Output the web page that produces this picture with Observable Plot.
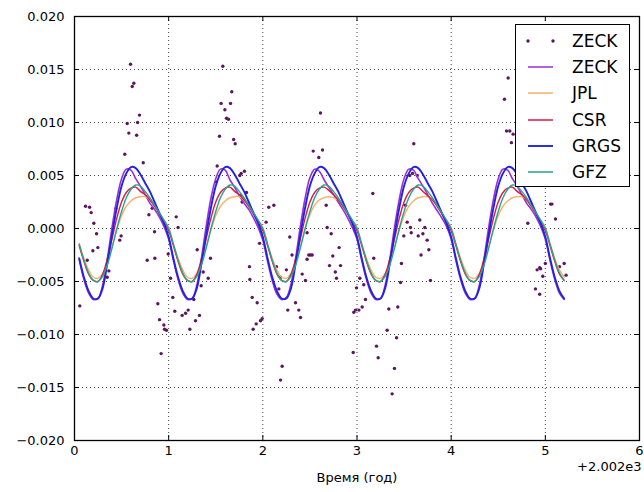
<!DOCTYPE html>
<html><head><meta charset="utf-8">
<script src="https://cdn.jsdelivr.net/npm/d3@7"></script>
<script src="https://cdn.jsdelivr.net/npm/@observablehq/plot@0.6"></script>
<style>
body{margin:0;background:#fff;}
#wrap{position:relative;width:644px;height:492px;font-family:"DejaVu Sans",sans-serif;}
#legend{position:absolute;left:515px;top:24px;width:113px;height:161px;border:1.5px solid #000;background:#fff;}
#legend .row{position:absolute;left:0;width:100%;height:26px;}
#legend svg{position:absolute;left:8px;top:0;}
#legend span{position:absolute;left:56px;top:2px;font-size:17px;line-height:22px;color:#000;}
</style></head><body><div id="wrap"></div>
<script>
// time (years since 2002)
const t = [0.05,0.10,0.15,0.20,0.25,0.30,0.35,0.40,0.45,0.50,0.55,0.60,0.65,0.70,0.75,0.80,0.85,0.90,0.95,
1.00,1.05,1.10,1.15,1.20,1.25,1.30,1.35,1.40,1.45,1.50,1.55,1.60,1.65,1.70,1.75,1.80,1.85,1.90,1.95,
2.00,2.05,2.10,2.15,2.20,2.25,2.30,2.35,2.40,2.45,2.50,2.55,2.60,2.65,2.70,2.75,2.80,2.85,2.90,2.95,
3.00,3.05,3.10,3.15,3.20,3.25,3.30,3.35,3.40,3.45,3.50,3.55,3.60,3.65,3.70,3.75,3.80,3.85,3.90,3.95,
4.00,4.05,4.10,4.15,4.20,4.25,4.30,4.35,4.40,4.45,4.50,4.55,4.60,4.65,4.70,4.75,4.80,4.85,4.90,4.95,
5.00,5.05,5.10,5.15,5.20];

const zeckLine = [-0.0029,-0.0048,-0.0061,-0.0067,-0.0066,-0.0053,-0.0028,0.0002,0.0028,0.0047,0.0056,0.0055,0.0047,0.0040,0.0032,0.0024,0.0018,0.0011,0.0002,
-0.0010,-0.0030,-0.0048,-0.0061,-0.0067,-0.0066,-0.0053,-0.0027,0.0003,0.0029,0.0047,0.0056,0.0055,0.0046,0.0039,0.0031,0.0024,0.0018,0.0010,0.0001,
-0.0011,-0.0031,-0.0049,-0.0062,-0.0067,-0.0065,-0.0052,-0.0027,0.0003,0.0029,0.0048,0.0056,0.0054,0.0046,0.0039,0.0032,0.0025,0.0018,0.0010,0.0001,
-0.0010,-0.0030,-0.0048,-0.0061,-0.0067,-0.0066,-0.0053,-0.0028,0.0002,0.0028,0.0047,0.0056,0.0055,0.0047,0.0040,0.0032,0.0024,0.0017,0.0010,0.0002,
-0.0010,-0.0030,-0.0048,-0.0061,-0.0067,-0.0066,-0.0053,-0.0028,0.0002,0.0028,0.0047,0.0056,0.0055,0.0047,0.0040,0.0032,0.0024,0.0018,0.0011,0.0002,
-0.0010,-0.0030,-0.0048,-0.0061,-0.0067];

const jpl = [-0.0014,-0.0028,-0.0039,-0.0046,-0.0047,-0.0042,-0.0031,-0.0016,-0.0001,0.0012,0.0021,0.0026,0.0029,0.0030,0.0030,0.0027,0.0022,0.0015,0.0008,
0.0001,-0.0014,-0.0028,-0.0039,-0.0046,-0.0047,-0.0042,-0.0031,-0.0016,-0.0001,0.0012,0.0021,0.0026,0.0029,0.0030,0.0030,0.0027,0.0022,0.0015,0.0008,
0.0001,-0.0014,-0.0028,-0.0039,-0.0046,-0.0047,-0.0042,-0.0031,-0.0016,0.0000,0.0013,0.0022,0.0027,0.0029,0.0030,0.0029,0.0027,0.0022,0.0015,0.0008,
0.0001,-0.0014,-0.0028,-0.0039,-0.0046,-0.0047,-0.0042,-0.0031,-0.0016,-0.0001,0.0012,0.0021,0.0026,0.0029,0.0030,0.0030,0.0027,0.0022,0.0015,0.0008,
0.0001,-0.0014,-0.0028,-0.0039,-0.0046,-0.0047,-0.0042,-0.0031,-0.0016,-0.0001,0.0012,0.0021,0.0026,0.0029,0.0030,0.0030,0.0027,0.0022,0.0015,0.0008,
0.0001,-0.0014,-0.0028,-0.0039,-0.0046];

const csr = [-0.0016,-0.0031,-0.0043,-0.0049,-0.0050,-0.0043,-0.0028,-0.0009,0.0010,0.0025,0.0034,0.0038,0.0039,0.0035,0.0032,0.0027,0.0021,0.0014,0.0006,
-0.0002,-0.0016,-0.0031,-0.0043,-0.0049,-0.0050,-0.0043,-0.0028,-0.0009,0.0010,0.0025,0.0034,0.0038,0.0039,0.0035,0.0032,0.0027,0.0021,0.0014,0.0006,
-0.0002,-0.0016,-0.0031,-0.0043,-0.0049,-0.0050,-0.0043,-0.0028,-0.0009,0.0010,0.0025,0.0034,0.0038,0.0039,0.0036,0.0032,0.0027,0.0021,0.0014,0.0006,
-0.0002,-0.0016,-0.0031,-0.0043,-0.0049,-0.0050,-0.0043,-0.0028,-0.0009,0.0010,0.0025,0.0034,0.0038,0.0039,0.0035,0.0031,0.0027,0.0021,0.0014,0.0006,
-0.0002,-0.0016,-0.0031,-0.0043,-0.0049,-0.0050,-0.0043,-0.0028,-0.0009,0.0010,0.0025,0.0034,0.0038,0.0039,0.0035,0.0032,0.0027,0.0021,0.0014,0.0006,
-0.0002,-0.0016,-0.0031,-0.0043,-0.0049];

const grgs = [-0.0028,-0.0046,-0.0059,-0.0066,-0.0066,-0.0056,-0.0032,-0.0005,0.0020,0.0040,0.0052,0.0058,0.0057,0.0051,0.0043,0.0035,0.0025,0.0015,0.0005,
-0.0008,-0.0028,-0.0046,-0.0059,-0.0066,-0.0066,-0.0056,-0.0032,-0.0005,0.0020,0.0040,0.0052,0.0058,0.0057,0.0051,0.0043,0.0035,0.0025,0.0015,0.0005,
-0.0008,-0.0028,-0.0046,-0.0059,-0.0066,-0.0066,-0.0056,-0.0032,-0.0005,0.0020,0.0040,0.0052,0.0058,0.0057,0.0051,0.0043,0.0035,0.0025,0.0015,0.0005,
-0.0008,-0.0028,-0.0046,-0.0059,-0.0066,-0.0066,-0.0056,-0.0032,-0.0005,0.0020,0.0040,0.0052,0.0058,0.0057,0.0051,0.0043,0.0035,0.0025,0.0015,0.0005,
-0.0008,-0.0028,-0.0046,-0.0059,-0.0066,-0.0066,-0.0056,-0.0032,-0.0005,0.0020,0.0040,0.0052,0.0058,0.0057,0.0051,0.0043,0.0035,0.0025,0.0015,0.0005,
-0.0008,-0.0028,-0.0046,-0.0059,-0.0066];

const gfz = [-0.0015,-0.0030,-0.0042,-0.0049,-0.0050,-0.0045,-0.0034,-0.0018,0.0000,0.0016,0.0029,0.0037,0.0041,0.0040,0.0035,0.0029,0.0022,0.0015,0.0008,
0.0000,-0.0015,-0.0030,-0.0042,-0.0049,-0.0050,-0.0045,-0.0034,-0.0018,0.0000,0.0016,0.0029,0.0037,0.0041,0.0040,0.0035,0.0029,0.0022,0.0015,0.0008,
0.0000,-0.0015,-0.0030,-0.0042,-0.0049,-0.0050,-0.0045,-0.0034,-0.0018,0.0000,0.0016,0.0029,0.0037,0.0041,0.0040,0.0035,0.0029,0.0022,0.0015,0.0008,
0.0000,-0.0015,-0.0030,-0.0042,-0.0049,-0.0050,-0.0045,-0.0034,-0.0018,0.0000,0.0016,0.0029,0.0037,0.0041,0.0040,0.0035,0.0029,0.0022,0.0015,0.0008,
0.0000,-0.0015,-0.0030,-0.0042,-0.0049,-0.0050,-0.0045,-0.0034,-0.0018,0.0000,0.0016,0.0029,0.0037,0.0041,0.0040,0.0035,0.0029,0.0022,0.0015,0.0008,
0.0000,-0.0015,-0.0030,-0.0042,-0.0049];

// ZECK individual estimates (dots)
const dotT = [0.056,0.117,0.135,0.160,0.177,0.195,0.205,0.234,0.248,0.347,0.365,0.440,0.480,0.495,0.534,0.560,0.577,0.595,0.613,0.630,0.660,0.670,0.690,0.730,0.772,0.790,0.825,0.850,0.853,0.885,0.903,0.920,0.949,0.956,0.977,0.995,
1.020,1.044,1.065,1.080,1.100,1.143,1.180,1.207,1.225,1.267,1.285,1.303,1.327,1.345,1.367,1.420,1.444,1.505,1.515,1.540,1.557,1.575,1.597,1.614,1.635,1.657,1.670,1.690,1.706,1.755,1.760,1.770,1.780,1.805,1.826,1.858,1.862,1.887,1.897,1.930,1.940,1.965,1.975,1.993,
2.035,2.063,2.117,2.145,2.170,2.188,2.188,2.205,2.250,2.265,2.286,2.310,2.347,2.382,2.400,2.418,2.453,2.470,2.470,2.488,2.506,2.524,2.535,2.594,2.612,2.634,2.673,2.683,2.708,2.726,2.743,2.770,2.782,2.810,2.825,2.960,2.966,2.984,2.995,
3.020,3.030,3.055,3.072,3.090,3.168,3.178,3.207,3.225,3.320,3.338,3.373,3.398,3.420,3.433,3.462,3.472,3.497,3.515,3.533,3.560,3.568,3.576,3.590,3.603,3.640,3.650,3.667,3.680,3.700,3.720,3.745,3.763,3.780,
4.566,4.588,4.605,4.623,4.640,4.658,4.814,4.895,4.913,4.940,4.940,4.950,4.973,5.000,5.055,5.070,5.108,5.150,5.200,5.220];
const dotV = [-0.0073,0.0021,-0.0030,0.0020,0.0015,-0.0021,0.0005,-0.0005,-0.0018,-0.0046,-0.0040,0.0019,-0.0011,-0.0007,0.0070,0.0099,0.0090,0.0155,0.0134,0.0137,0.0088,0.0100,0.0107,0.0062,-0.0030,0.0013,0.0019,-0.0003,-0.0028,-0.0071,-0.0086,-0.0118,-0.0091,-0.0095,-0.0096,-0.0024,
-0.0047,-0.0065,-0.0078,0.0011,0.0001,-0.0082,-0.0080,-0.0077,-0.0095,-0.0067,-0.0087,-0.0020,-0.0082,-0.0054,-0.0041,-0.0047,-0.0028,0.0044,0.0059,0.0087,0.0118,0.0153,0.0112,0.0104,0.0103,0.0118,0.0129,0.0084,0.0080,0.0050,0.0031,0.0052,0.0025,0.0054,0.0034,-0.0036,-0.0048,-0.0065,-0.0095,-0.0090,-0.0070,-0.0014,-0.0087,-0.0085,
0.0006,0.0020,0.0022,-0.0036,-0.0057,-0.0046,-0.0143,-0.0130,-0.0039,-0.0077,-0.0008,-0.0025,-0.0070,-0.0077,-0.0084,-0.0043,-0.0049,-0.0029,-0.0004,-0.0025,-0.0025,-0.0025,0.0073,0.0067,0.0109,0.0074,0.0022,0.0001,-0.0035,-0.0005,-0.0026,-0.0041,-0.0047,-0.0018,-0.0035,-0.0117,-0.0079,-0.0077,-0.0056,
-0.0077,-0.0047,-0.0074,-0.0053,-0.0067,0.0033,-0.0028,-0.0111,-0.0122,-0.0096,-0.0076,-0.0156,-0.0132,-0.0103,-0.0074,-0.0051,-0.0033,-0.0007,0.0022,0.0006,0.0050,0.0001,-0.0004,0.0052,0.0080,0.0050,-0.0007,0.0008,-0.0025,-0.0005,0.0001,-0.0011,-0.0020,-0.0049,
0.0122,0.0092,0.0142,0.0092,0.0081,0.0089,0.0005,-0.0057,-0.0039,-0.0037,-0.0062,-0.0038,-0.0045,-0.0033,0.0023,0.0023,0.0009,-0.0036,-0.0033,-0.0044];

const xTicks = [0,1,2,3,4,5,6];
const yTicks = [-0.020,-0.015,-0.010,-0.005,0.000,0.005,0.010,0.015,0.020];
const legendNames = ["ZECK","ZECK","JPL","CSR","GRGS","GFZ"];
const colors = {zeckDot:"#5e1560", zeck:"#9b2fd6", jpl:"#f6b26b", csr:"#dc1846", grgs:"#2222e6", gfz:"#26a58a"};
const xLabel = "Время (год)";
const offsetLabel = "+2.002e3";

const lineRows = (vals) => t.map((d,i)=>({t:d, v:vals[i]}));
const dots = dotT.map((d,i)=>({t:d, v:dotV[i]}));

const W = 644, H = 492, mL = 74, mR = 5, mT = 16, mB = 52;
const pw = W - mL - mR, ph = H - mT - mB;
const fmt = d => (d < 0 ? "\u2212" : "") + Math.abs(d).toFixed(3);

const chart = Plot.plot({
  width: W, height: H,
  marginLeft: mL, marginRight: mR, marginTop: mT, marginBottom: mB,
  style: {fontFamily: "DejaVu Sans, sans-serif", fontSize: "13px", color: "#000", background: "#fff", overflow: "visible"},
  x: {domain: [0, 6]},
  y: {domain: [-0.02, 0.02]},
  marks: [
    Plot.gridX(xTicks, {stroke: "#000", strokeOpacity: 0.75, strokeDasharray: "1,3", strokeWidth: 1}),
    Plot.gridY(yTicks, {stroke: "#000", strokeOpacity: 0.75, strokeDasharray: "1,3", strokeWidth: 1}),
    Plot.dot(dots, {x: "t", y: "v", r: 1.7, fill: colors.zeckDot, stroke: null}),
    Plot.line(lineRows(zeckLine), {x: "t", y: "v", stroke: colors.zeck, strokeWidth: 1.6, curve: "catmull-rom"}),
    Plot.line(lineRows(jpl), {x: "t", y: "v", stroke: colors.jpl, strokeWidth: 1.4, curve: "catmull-rom"}),
    Plot.line(lineRows(csr), {x: "t", y: "v", stroke: colors.csr, strokeWidth: 1.4, curve: "catmull-rom"}),
    Plot.line(lineRows(grgs), {x: "t", y: "v", stroke: colors.grgs, strokeWidth: 1.9, curve: "catmull-rom"}),
    Plot.line(lineRows(gfz), {x: "t", y: "v", stroke: colors.gfz, strokeWidth: 1.4, curve: "catmull-rom"}),
    // inward ticks on all four sides
    Plot.tickY(yTicks, {y: d => d, stroke: "#000", insetRight: pw - 5}),
    Plot.tickY(yTicks, {y: d => d, stroke: "#000", insetLeft: pw - 5}),
    Plot.tickX(xTicks, {x: d => d, stroke: "#000", insetBottom: ph - 5}),
    Plot.tickX(xTicks, {x: d => d, stroke: "#000", insetTop: ph - 5}),
    Plot.frame({stroke: "#000", strokeWidth: 1.3}),
    Plot.axisY(yTicks, {tickSize: 0, tickPadding: 10, tickFormat: fmt, label: null}),
    Plot.axisX(xTicks, {tickSize: 0, tickPadding: 5, tickFormat: d => String(d), label: null}),
    Plot.text([xLabel], {frameAnchor: "bottom", dy: 41, text: d => d, fontSize: 13}),
    Plot.text([offsetLabel], {frameAnchor: "bottom-right", dy: 30, dx: 2, textAnchor: "end", text: d => d, fontSize: 13})
  ]
});
const wrap = document.getElementById("wrap");
wrap.appendChild(chart);

// legend
const legendKeys = ["zeckDot","zeck","jpl","csr","grgs","gfz"];
const leg = document.createElement("div");
leg.id = "legend";
legendKeys.forEach((k, i) => {
  const row = document.createElement("div");
  row.className = "row";
  row.style.top = (3 + i * 26.2) + "px";
  const sw = k === "zeckDot"
    ? `<svg width="40" height="26"><circle cx="4" cy="13" r="1.7" fill="${colors[k]}"/><circle cx="29" cy="13" r="1.7" fill="${colors[k]}"/></svg>`
    : `<svg width="40" height="26"><line x1="4" x2="29" y1="13" y2="13" stroke="${colors[k]}" stroke-width="${k==='grgs'?1.9:1.5}"/></svg>`;
  row.innerHTML = sw + `<span>${legendNames[i]}</span>`;
  leg.appendChild(row);
});
wrap.appendChild(leg);
</script></body></html>
